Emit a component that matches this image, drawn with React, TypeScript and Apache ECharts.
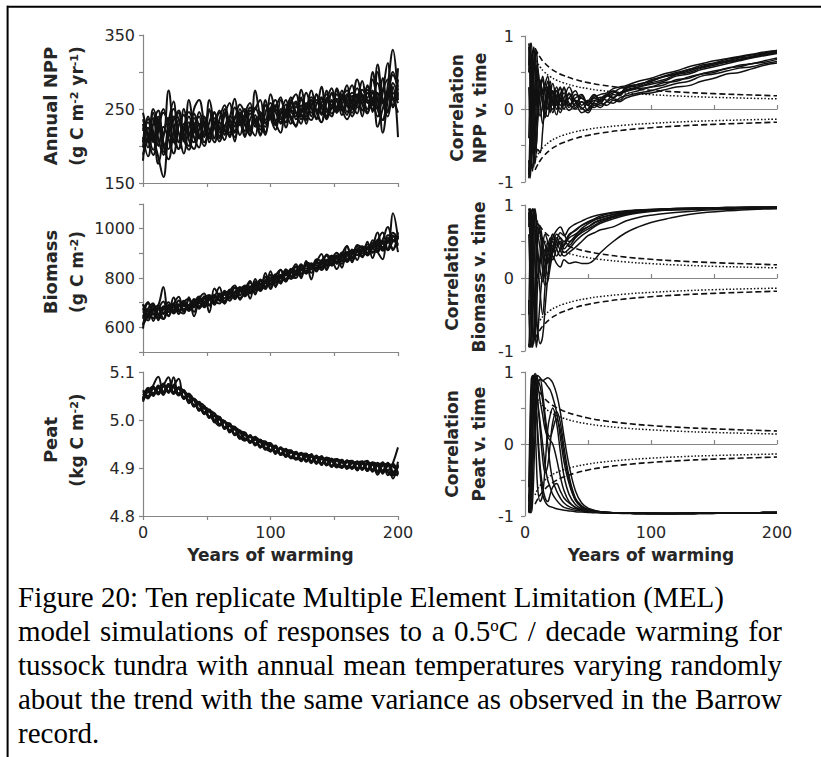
import React, { useEffect, useRef } from "react";
import * as echarts from "echarts";

// ---------- DATA ----------
const years = [0,4,8,12,16,20,24,28,32,36,40,44,48,52,56,60,64,68,72,76,80,84,88,92,96,100,104,108,112,116,120,124,128,132,136,140,144,148,152,156,160,164,168,172,176,180,184,188,192,196,200];

const nppReps = [
  [230,198,245,210,188,232,260,205,220,240, 212,198,230,215,245,225,208,236,220,250, 228,214,242,226,255,238,222,250,232,262, 245,230,258,240,270,252,238,262,248,275, 255,245,270,258,280,262,250,275,290,265, 245],
  [205,240,212,185,158,215,235,248,210,195, 226,240,205,218,232,210,245,226,212,238, 250,222,236,214,245,258,232,218,248,240, 226,255,236,262,248,232,258,270,245,262, 282,250,268,240,272,255,300,262,248,285, 270],
  [220,232,205,240,215,275,222,196,230,215, 250,262,232,212,228,245,222,215,240,232, 212,248,236,222,255,240,228,262,245,230, 258,240,250,275,246,232,265,250,278,256, 242,268,252,262,276,246,310,262,240,280, 212],
  [188,212,238,200,226,210,190,228,242,208, 196,222,238,205,230,248,215,235,206,242, 230,216,252,236,215,248,228,244,262,236, 228,250,240,262,236,258,270,244,252,268, 246,262,278,256,244,290,262,235,268,300, 275],
  [245,215,195,228,250,220,205,236,214,262, 225,210,240,222,205,236,255,230,218,245, 236,220,275,240,226,252,234,246,225,258, 270,242,235,262,248,256,240,272,260,248, 266,282,258,270,246,262,285,258,275,252, 290],
  [212,186,230,248,205,196,240,218,190,225, 238,215,200,232,246,218,228,212,252,236, 220,244,232,216,262,240,250,230,248,266, 236,245,272,252,238,264,250,240,276,258, 270,250,262,288,258,272,226,250,270,262, 305],
  [198,236,220,176,212,238,226,205,250,218, 205,230,212,262,228,206,225,240,232,215, 244,258,226,238,218,250,262,236,242,258, 252,276,246,235,256,266,246,260,245,270, 262,240,256,276,265,300,250,235,282,330, 262],
  [225,205,250,230,200,182,220,245,206,232, 218,246,226,210,238,222,250,218,236,256, 244,226,214,246,235,270,246,232,256,246, 240,262,255,245,270,242,262,278,252,266, 275,258,244,268,262,250,272,218,262,296, 280],
  [236,210,188,220,245,232,208,196,225,246, 230,212,220,248,226,214,242,258,226,244, 215,236,250,262,230,242,255,240,232,250, 260,236,248,266,258,280,236,252,264,242, 258,272,266,248,282,260,240,272,312,255, 270],
  [180,225,208,236,192,218,250,236,212,200, 244,228,216,250,210,232,220,238,264,228, 238,252,230,244,232,238,252,266,238,248, 244,266,230,256,262,244,275,255,270,250, 236,254,290,266,250,275,260,292,245,272, 258],
];

const biomassReps = [
  [675,643,672,640,674,702,666,694,663,691, 680,720,696,716,692,732,718,748,719,749, 770,742,765,747,790,812,785,807,790,832, 825,816,858,849,841,867,839,875,902,873, 900,881,918,909,896,942,934,910,952,983, 955],
  [610,648,692,650,634,677,696,654,693,681, 705,675,706,691,732,707,748,723,744,719, 740,767,740,777,765,787,815,782,825,807, 800,841,828,859,836,857,874,850,882,898, 875,916,893,919,891,927,984,915,962,913, 970],
  [673,703,626,674,705,645,694,724,665,713, 645,713,737,688,721,762,696,746,770,730, 763,716,796,758,820,755,808,833,787,821, 856,817,851,794,873,834,895,874,836,896, 930,864,907,886,947,881,951,984,919,970, 905],
  [635,698,657,635,684,682,656,684,708,671, 695,680,716,731,707,697,733,718,759,754, 730,757,775,752,780,802,770,802,830,797, 830,851,818,844,866,847,869,855,887,858, 890,906,873,924,916,907,909,950,942,1063, 960],
  [690,663,637,680,659,687,681,664,703,716, 685,715,681,711,727,712,698,743,729,764, 750,782,750,787,760,792,780,812,810,837, 810,831,853,834,876,867,849,890,867,893, 865,896,928,889,921,932,919,940,912,948, 965],
  [650,628,677,690,764,662,686,664,688,676, 710,700,686,726,697,727,738,708,739,749, 765,737,785,772,755,802,800,787,835,822, 825,806,863,854,831,872,854,880,857,903, 895,871,913,929,901,922,954,925,952,953, 930],
  [595,673,652,675,634,692,671,709,673,691, 705,685,726,691,722,712,743,738,724,754, 735,762,755,792,785,772,810,777,820,807, 845,836,818,859,851,832,864,890,882,868, 905,901,893,909,936,922,904,945,947,918, 985],
  [665,638,687,655,684,647,696,669,698,666, 700,725,691,721,707,732,733,753,714,744, 760,747,770,757,805,777,805,802,785,827, 815,846,838,854,826,869,890,860,892,888, 870,911,908,884,926,902,929,955,1007,953, 945],
  [610,676,698,629,678,663,721,670,656,722, 663,704,719,661,757,726,705,737,761,712, 754,788,733,794,766,827,763,833,796,830, 847,799,869,821,864,897,832,883,881,842, 930,882,934,922,902,953,906,876,973,970, 959],
  [695,653,667,690,654,682,661,689,688,676, 715,680,696,726,702,737,708,723,744,759, 725,757,780,762,785,762,795,812,815,797, 815,856,823,844,861,842,869,880,862,883, 895,881,913,899,921,922,944,920,917,973, 935],
];

const peatReps = [
  [5.055,5.047,5.072,5.090,5.059,5.075,5.058,5.068,5.048,5.055, 5.028,5.034,5.015,5.021,4.997,5.001,4.998,4.977,4.981,4.961, 4.971,4.956,4.965,4.943,4.949,4.950,4.933,4.940,4.923,4.932, 4.932,4.917,4.924,4.910,4.922,4.923,4.909,4.917,4.903,4.917, 4.902,4.913,4.895,4.910,4.915,4.894,4.906,4.888,4.909,4.892, 4.902],
  [5.042,5.067,5.054,5.066,5.074,5.057,5.089,5.055,5.062,5.038, 5.042,5.019,5.028,5.008,5.014,4.991,4.995,4.992,4.968,4.974, 4.959,4.969,4.950,4.957,4.938,4.947,4.935,4.943,4.925,4.935, 4.920,4.931,4.914,4.924,4.913,4.925,4.905,4.915,4.919,4.902, 4.915,4.899,4.910,4.914,4.894,4.908,4.890,4.908,4.885,4.910, 4.943],
  [5.060,5.058,5.052,5.068,5.052,5.073,5.068,5.051,5.059,5.050, 5.030,5.038,5.016,5.018,4.995,5.004,4.985,4.987,4.986,4.964, 4.973,4.953,4.959,4.959,4.941,4.935,4.944,4.930,4.939,4.923, 4.934,4.919,4.927,4.927,4.910,4.918,4.919,4.903,4.915,4.915, 4.898,4.910,4.913,4.898,4.908,4.911,4.894,4.912,4.891,4.884, 4.904],
  [5.038,5.061,5.070,5.057,5.072,5.089,5.058,5.067,5.044,5.054, 5.041,5.021,5.029,5.006,5.008,5.007,4.982,4.989,4.971,4.978, 4.961,4.966,4.947,4.955,4.955,4.936,4.942,4.927,4.937,4.937, 4.919,4.928,4.913,4.923,4.924,4.909,4.922,4.916,4.901,4.912, 4.913,4.898,4.909,4.897,4.913,4.896,4.909,4.895,4.908,4.904, 4.888],
  [5.054,5.045,5.067,5.054,5.076,5.059,5.073,5.055,5.058,5.035, 5.044,5.033,5.013,5.022,4.999,4.988,4.996,4.979,4.984,4.976, 4.958,4.964,4.963,4.944,4.951,4.952,4.930,4.940,4.935,4.920, 4.930,4.914,4.925,4.925,4.912,4.923,4.907,4.920,4.906,4.900, 4.914,4.915,4.899,4.909,4.894,4.906,4.886,4.906,4.909,4.878, 4.906],
  [5.044,5.063,5.056,5.072,5.057,5.070,5.054,5.066,5.061,5.040, 5.043,5.022,5.024,5.004,5.010,5.005,4.985,4.993,4.970,4.975, 4.974,4.955,4.961,4.942,4.953,4.938,4.947,4.928,4.928,4.935, 4.917,4.929,4.930,4.914,4.921,4.908,4.918,4.905,4.918,4.913, 4.900,4.911,4.896,4.912,4.898,4.912,4.907,4.891,4.904,4.906, 4.886],
  [5.058,5.050,5.069,5.053,5.070,5.061,5.072,5.086,5.046,5.049, 5.028,5.037,5.015,5.018,5.000,5.006,4.983,4.988,4.983,4.961, 4.969,4.954,4.964,4.955,4.939,4.948,4.933,4.942,4.924,4.933, 4.933,4.917,4.925,4.912,4.926,4.910,4.919,4.919,4.904,4.917, 4.903,4.913,4.898,4.913,4.897,4.910,4.892,4.907,4.895,4.909, 4.890],
  [5.046,5.061,5.050,5.070,5.058,5.075,5.057,5.065,5.044,5.051, 5.031,5.035,5.029,5.005,5.009,4.991,4.998,4.974,4.980,4.978, 4.960,4.967,4.949,4.956,4.955,4.934,4.943,4.929,4.940,4.922, 4.929,4.930,4.916,4.929,4.909,4.921,4.906,4.915,4.918,4.903, 4.916,4.900,4.912,4.900,4.911,4.892,4.907,4.910,4.892,4.889, 4.913],
  [5.062,5.048,5.065,5.058,5.073,5.057,5.070,5.054,5.062,5.041, 5.045,5.023,5.026,5.020,4.998,5.001,4.981,4.990,4.971,4.976, 4.973,4.952,4.960,4.946,4.952,4.950,4.929,4.941,4.936,4.921, 4.920,4.932,4.915,4.925,4.909,4.922,4.917,4.902,4.916,4.901, 4.912,4.914,4.900,4.910,4.895,4.909,4.905,4.892,4.911,4.892, 4.884],
  [5.040,5.064,5.055,5.069,5.056,5.071,5.055,5.068,5.047,5.053, 5.030,5.033,5.012,5.019,5.014,4.992,4.997,4.977,4.985,4.965, 4.957,4.966,4.951,4.959,4.940,4.947,4.946,4.928,4.936,4.936, 4.918,4.918,4.929,4.915,4.923,4.906,4.921,4.917,4.905,4.915, 4.901,4.902,4.914,4.896,4.909,4.897,4.911,4.894,4.906,4.886, 4.908],
];

const corrNppYears = [3,4,5,6,7,8,9,10,12,14,16,18,20,22,25,28,31,35,40,45,50,55,60,65,70,75,80,90,100,110,120,130,140,150,160,170,180,190,200];
const corrNppReps = [
  [-0.9,-0.6,0.2,0.7,0.85,0.6,0.3,0.1,0.35,0.25, 0.05,0.3,0.15,0.25,0.05,0.2,0.0,0.15,0.05,0.18, 0.05,0.12,0.08,0.18,0.15,0.22,0.25,0.3,0.36,0.4, 0.47,0.5,0.56,0.6,0.64,0.67,0.71,0.74,0.77],
  [0.9,0.7,0.2,-0.5,-0.8,-0.4,0.1,0.45,0.3,0.05, -0.12,0.15,0.32,0.1,-0.08,0.2,0.28,0.05,0.12,0.0, 0.1,0.2,0.12,0.2,0.24,0.2,0.3,0.34,0.38,0.45, 0.5,0.54,0.6,0.63,0.68,0.71,0.74,0.77,0.8],
  [-0.95,-0.3,0.5,0.8,0.4,-0.2,-0.5,-0.2,0.2,0.4, 0.25,0.38,0.15,-0.05,0.12,0.3,0.1,0.22,0.02,0.1, -0.02,0.08,0.05,0.1,0.14,0.12,0.2,0.25,0.3,0.33, 0.4,0.42,0.48,0.5,0.56,0.58,0.62,0.64,0.68],
  [0.6,0.85,0.9,0.5,0.0,-0.4,-0.6,-0.55,-0.6,-0.3, 0.1,0.15,0.3,0.08,0.25,0.05,0.15,0.3,0.1,0.02, -0.05,0.05,0.02,0.1,0.08,0.15,0.18,0.22,0.25,0.3, 0.35,0.38,0.45,0.48,0.52,0.56,0.58,0.62,0.65],
  [-0.7,-0.9,-0.5,0.1,0.6,0.8,0.5,0.2,-0.1,0.05, 0.3,0.1,-0.05,0.22,0.15,0.0,0.12,0.02,0.2,0.15, 0.1,0.16,0.2,0.22,0.28,0.3,0.32,0.38,0.42,0.48, 0.52,0.58,0.62,0.66,0.69,0.72,0.75,0.78,0.8],
  [0.3,-0.2,-0.7,-0.85,-0.5,0.0,0.4,0.55,0.3,0.45, 0.2,0.0,0.18,0.35,0.1,-0.05,0.08,0.15,0.25,0.05, 0.12,0.05,0.14,0.2,0.16,0.22,0.24,0.28,0.3,0.36, 0.38,0.44,0.48,0.52,0.55,0.6,0.62,0.66,0.7],
  [0.85,0.4,-0.3,-0.6,-0.2,0.3,0.6,0.4,0.1,-0.2, 0.0,0.25,0.38,0.15,0.25,0.1,0.3,0.05,0.15,0.2, 0.06,0.15,0.1,0.18,0.22,0.28,0.3,0.32,0.4,0.44, 0.48,0.54,0.57,0.62,0.66,0.7,0.72,0.76,0.78],
  [-0.4,0.3,0.75,0.6,0.2,-0.3,-0.2,0.1,0.4,0.2, 0.35,0.45,0.2,0.05,0.3,0.15,0.05,0.2,0.1,-0.05, 0.0,0.1,0.16,0.12,0.2,0.18,0.26,0.3,0.34,0.38, 0.45,0.48,0.54,0.58,0.62,0.66,0.7,0.73,0.76],
  [0.5,0.9,0.6,0.0,-0.6,-0.75,-0.5,-0.1,0.25,0.1, -0.05,-0.1,0.1,0.25,0.0,0.12,0.22,0.08,0.0,0.1, 0.05,0.02,0.08,0.05,0.12,0.1,0.15,0.2,0.22,0.26, 0.3,0.32,0.38,0.42,0.48,0.5,0.55,0.6,0.63],
  [-0.8,-0.95,-0.7,-0.2,0.4,0.7,0.8,0.6,0.3,0.15, 0.35,0.25,0.05,0.0,0.18,0.28,0.1,-0.02,0.08,0.15, 0.08,0.18,0.12,0.18,0.25,0.22,0.28,0.34,0.38,0.44, 0.48,0.52,0.58,0.62,0.65,0.68,0.72,0.75,0.79],
];

const corrYears = [3,4,5,6,7,8,9,10,12,14,16,18,20,22,25,28,31,35,40,45,50,55,60,70,80,90,100,115,130,145,160,180,200];

const corrBiomassReps = [
  [0.95,0.8,0.3,-0.5,-0.9,-0.6,0.2,0.7,0.6,0.3, 0.0,0.3,0.5,0.6,0.45,0.55,0.5,0.6,0.65,0.72, 0.76,0.8,0.83,0.87,0.9,0.92,0.93,0.94,0.95,0.955, 0.96,0.965,0.97],
  [-0.9,-0.95,-0.5,0.3,0.9,0.95,0.7,0.4,0.1,-0.05, 0.2,0.4,0.55,0.35,0.5,0.62,0.58,0.68,0.74,0.78, 0.82,0.85,0.87,0.9,0.92,0.93,0.94,0.95,0.955,0.96, 0.965,0.97,0.97],
  [0.7,0.95,0.9,0.5,0.0,-0.6,-0.95,-0.8,-0.3,0.1, 0.4,0.2,0.35,0.5,0.4,0.3,0.45,0.55,0.6,0.66, 0.7,0.75,0.79,0.84,0.88,0.9,0.92,0.93,0.94,0.95, 0.955,0.96,0.965],
  [0.9,0.5,-0.2,-0.7,-0.85,-0.5,0.0,0.5,0.7,0.5, 0.2,0.05,0.25,0.4,0.55,0.45,0.35,0.4,0.5,0.58, 0.64,0.7,0.75,0.81,0.86,0.89,0.91,0.93,0.94,0.95, 0.955,0.96,0.96],
  [-0.5,0.4,0.9,0.95,0.6,0.1,-0.4,-0.7,-0.9,-0.8, -0.4,0.0,0.3,0.45,0.3,0.4,0.5,0.45,0.55,0.62, 0.67,0.72,0.77,0.83,0.87,0.9,0.92,0.94,0.95,0.955, 0.96,0.965,0.97],
  [0.95,0.9,0.6,0.1,-0.3,-0.2,0.3,0.6,0.4,0.1, -0.1,-0.05,0.15,0.3,0.2,0.15,0.25,0.2,0.22,0.2, 0.2,0.25,0.35,0.5,0.62,0.7,0.76,0.82,0.87,0.9, 0.92,0.94,0.95],
  [-0.95,-0.6,0.2,0.8,0.95,0.7,0.3,0.0,0.2,0.45, 0.6,0.5,0.4,0.55,0.65,0.7,0.6,0.5,0.58,0.68, 0.74,0.79,0.82,0.87,0.9,0.92,0.93,0.945,0.95,0.96, 0.965,0.97,0.97],
  [0.6,0.0,-0.6,-0.95,-0.8,-0.3,0.3,0.75,0.65,0.4, 0.3,0.5,0.35,0.25,0.4,0.5,0.4,0.48,0.56,0.64, 0.7,0.76,0.8,0.85,0.89,0.91,0.93,0.94,0.95,0.955, 0.96,0.965,0.965],
  [0.8,0.95,0.7,0.2,-0.4,-0.8,-0.6,-0.1,0.3,0.55, 0.45,0.3,0.45,0.6,0.5,0.38,0.3,0.35,0.42,0.5, 0.58,0.62,0.66,0.7,0.78,0.83,0.86,0.89,0.91,0.93, 0.94,0.95,0.96],
  [-0.3,-0.9,-0.95,-0.4,0.4,0.9,0.8,0.3,-0.2,-0.5, -0.1,0.3,0.2,0.35,0.6,0.55,0.45,0.58,0.66,0.72, 0.77,0.81,0.85,0.89,0.91,0.93,0.94,0.95,0.96,0.96, 0.965,0.97,0.97],
];

const corrPeatReps = [
  [-0.95,-0.6,0.2,0.8,0.95,0.9,0.8,0.6,0.3,0.0, -0.3,-0.5,-0.6,-0.7,-0.78,-0.84,-0.88,-0.9,-0.92,-0.93, -0.94,-0.945,-0.95,-0.955,-0.96,-0.96,-0.96,-0.965,-0.965,-0.965, -0.96,-0.96,-0.955],
  [-0.9,-0.95,-0.7,0.0,0.6,0.9,0.95,0.9,0.8,0.6, 0.3,0.0,-0.3,-0.5,-0.65,-0.75,-0.82,-0.87,-0.9,-0.92, -0.93,-0.94,-0.945,-0.955,-0.96,-0.96,-0.965,-0.965,-0.965,-0.96, -0.96,-0.955,-0.95],
  [-0.6,0.3,0.9,0.95,0.7,0.3,-0.2,-0.6,-0.8,-0.7, -0.3,0.2,0.4,0.5,0.3,-0.1,-0.45,-0.7,-0.84,-0.9, -0.92,-0.935,-0.945,-0.955,-0.96,-0.965,-0.965,-0.965,-0.965,-0.96, -0.96,-0.955,-0.95],
  [-0.95,-0.95,-0.9,-0.5,0.1,0.5,0.75,0.85,0.9,0.88, 0.85,0.8,0.75,0.65,0.45,0.1,-0.25,-0.55,-0.78,-0.87, -0.91,-0.93,-0.94,-0.955,-0.96,-0.96,-0.965,-0.965,-0.965,-0.965, -0.96,-0.96,-0.955],
  [-0.8,0.0,0.7,0.9,0.85,0.7,0.5,0.2,-0.3,-0.6, -0.75,-0.8,-0.7,-0.6,-0.55,-0.65,-0.75,-0.82,-0.88,-0.91, -0.93,-0.94,-0.95,-0.955,-0.96,-0.965,-0.965,-0.965,-0.96,-0.96, -0.96,-0.955,-0.95],
  [-0.95,-0.85,-0.4,0.3,0.7,0.85,0.9,0.95,0.92,0.88, 0.9,0.92,0.9,0.85,0.7,0.45,0.1,-0.3,-0.65,-0.82, -0.89,-0.92,-0.94,-0.955,-0.96,-0.965,-0.965,-0.965,-0.965,-0.96, -0.96,-0.955,-0.95],
  [-0.7,-0.95,-0.6,0.2,0.8,0.95,0.85,0.6,0.2,-0.2, -0.4,-0.3,0.0,0.3,0.45,0.3,-0.05,-0.45,-0.75,-0.86, -0.91,-0.93,-0.945,-0.955,-0.96,-0.96,-0.965,-0.965,-0.965,-0.96, -0.96,-0.955,-0.95],
  [-0.9,-0.4,0.5,0.9,0.95,0.8,0.5,0.1,-0.4,-0.7, -0.8,-0.85,-0.87,-0.88,-0.9,-0.91,-0.92,-0.93,-0.94,-0.945, -0.95,-0.955,-0.955,-0.96,-0.965,-0.965,-0.965,-0.965,-0.96,-0.96, -0.955,-0.955,-0.95],
  [-0.85,-0.95,-0.95,-0.8,-0.4,0.2,0.6,0.8,0.9,0.7, 0.4,0.15,0.1,0.2,0.35,0.2,-0.15,-0.5,-0.78,-0.88, -0.92,-0.94,-0.95,-0.955,-0.96,-0.965,-0.965,-0.965,-0.96,-0.96, -0.96,-0.955,-0.95],
  [-0.95,-0.7,0.0,0.6,0.9,0.98,0.95,0.85,0.6,0.4, 0.2,0.1,0.05,0.0,-0.2,-0.45,-0.65,-0.8,-0.88,-0.91, -0.93,-0.94,-0.95,-0.955,-0.96,-0.965,-0.965,-0.965,-0.965,-0.96, -0.96,-0.955,-0.95],
];

// significance thresholds of r (dashed: p = 0.01, dotted: p = 0.05)
const critYears = [8,10,12,15,20,25,30,40,50,60,80,100,120,150,200];
const crit01Upper = [0.834,0.765,0.708,0.641,0.561,0.505,0.463,0.403,0.361,0.330,0.286,0.256,0.234,0.210,0.181];
const crit01Lower = [-0.834,-0.765,-0.708,-0.641,-0.561,-0.505,-0.463,-0.403,-0.361,-0.330,-0.286,-0.256,-0.234,-0.210,-0.181];
const crit05Upper = [0.707,0.632,0.576,0.514,0.444,0.396,0.361,0.312,0.279,0.254,0.220,0.197,0.179,0.160,0.139];
const crit05Lower = [-0.707,-0.632,-0.576,-0.514,-0.444,-0.396,-0.361,-0.312,-0.279,-0.254,-0.220,-0.197,-0.179,-0.160,-0.139];

const nppTickLabels = [150, 250, 350];
const biomassTickLabels = [600, 800, 1000];
const peatTickLabels = ["4.8", "4.9", "5.0", "5.1"];
const corrTickLabels = [-1, 0, 1];
const yearTickLabels = [0, 100, 200];

const captionLines = [
  "Figure 20: Ten replicate Multiple Element Limitation (MEL)",
  "model simulations of responses to a 0.5°C / decade warming for",
  "tussock tundra with annual mean temperatures varying randomly",
  "about the trend with the same variance as observed in the Barrow",
  "record.",
];
const captionJustified = [false, true, true, true, false];

// ---------- STYLE ----------
const FONT = "DejaVu Sans";
const SERIF = "Liberation Serif";
const AXIS_COLOR = "#868686";
const TEXT_COLOR = "#262626";
const LINE_COLOR = "#111111";

const grids = [
  { left: 143, top: 35, width: 255, height: 148 },
  { left: 143, top: 204, width: 255, height: 148 },
  { left: 143, top: 372, width: 255, height: 144 },
  { left: 525, top: 36, width: 252, height: 146 },
  { left: 525, top: 205, width: 252, height: 146 },
  { left: 525, top: 372, width: 252, height: 144 },
];

const labelStyle = { fontFamily: FONT, fontSize: 16, color: TEXT_COLOR };
const axisNameStyle = { fontFamily: FONT, fontSize: 17, fontWeight: "bold", color: TEXT_COLOR };

function leftX(gridIndex: number, showLabels: boolean) {
  return {
    gridIndex, type: "value", min: 0, max: 200, interval: 50,
    axisLine: { show: true, onZero: false, lineStyle: { color: AXIS_COLOR, width: 1.2 } },
    axisTick: { show: true, length: 4, lineStyle: { color: AXIS_COLOR, width: 1.2 } },
    axisLabel: {
      show: showLabels, margin: 8, ...labelStyle,
      formatter: (v: number) => (yearTickLabels.includes(v) ? String(v) : ""),
    },
    splitLine: { show: false },
    name: showLabels ? "Years of warming" : "",
    nameLocation: "middle", nameGap: 30, nameTextStyle: axisNameStyle,
  };
}

function rightX(gridIndex: number) {
  return {
    gridIndex, type: "value", min: 0, max: 200, interval: 50,
    axisLine: { show: true, onZero: true, lineStyle: { color: AXIS_COLOR, width: 1.2 } },
    axisTick: { show: true, inside: true, length: 4, lineStyle: { color: AXIS_COLOR, width: 1.2 } },
    axisLabel: { show: false },
    splitLine: { show: false },
  };
}

function yAxis(gridIndex: number, min: number, max: number, interval: number, fmt: (v: number) => string, margin: number) {
  return {
    gridIndex, type: "value", min, max, interval,
    axisLine: { show: true, onZero: false, lineStyle: { color: AXIS_COLOR, width: 1.2 } },
    axisTick: { show: true, length: 4, lineStyle: { color: AXIS_COLOR, width: 1.2 } },
    axisLabel: { margin, ...labelStyle, formatter: fmt },
    splitLine: { show: false },
  };
}

function repSeries(xs: number[], reps: number[][], axisIndex: number, width: number, smooth: number) {
  return reps.map((rep) => ({
    type: "line", xAxisIndex: axisIndex, yAxisIndex: axisIndex,
    data: xs.map((x, i) => [x, rep[i]]),
    symbol: "none", smooth, silent: true,
    lineStyle: { color: LINE_COLOR, width },
    z: 2,
  }));
}

function critSeries(axisIndex: number) {
  const mk = (vals: number[], type: any, width: number) => ({
    type: "line", xAxisIndex: axisIndex, yAxisIndex: axisIndex,
    data: critYears.map((x, i) => [x, vals[i]]),
    symbol: "none", smooth: true, silent: true,
    lineStyle: { color: LINE_COLOR, width, type },
    z: 3,
  });
  return [
    mk(crit01Upper, [6, 3], 1.6),
    mk(crit01Lower, [6, 3], 1.6),
    mk(crit05Upper, [1.5, 2], 1.5),
    mk(crit05Lower, [1.5, 2], 1.5),
  ];
}

function yName(x: number, y: number, text: string, fontSize: number) {
  return {
    type: "text", x, y, rotation: Math.PI / 2,
    style: {
      text, align: "center", verticalAlign: "middle",
      fontFamily: FONT, fontSize, fontWeight: "bold", fill: TEXT_COLOR,
      rich: {
        n: { fontFamily: FONT, fontSize, fontWeight: "bold", fill: TEXT_COLOR },
        s: { fontFamily: FONT, fontSize: 11, fontWeight: "bold", fill: TEXT_COLOR, verticalAlign: "top" },
      },
    },
  };
}

// caption lines (lines 2-4 justified); the degree sign is drawn as a raised small "o"
function captionElements() {
  const size = 29;
  const supSize = 17;
  const left = 18;
  const right = 782;
  const ys = [597, 631, 665, 699, 733];
  const ctx = document.createElement("canvas").getContext("2d")!;
  const w = (t: string, s: number) => {
    ctx.font = `${s}px "${SERIF}"`;
    return ctx.measureText(t).width;
  };
  const rich = {
    t: { fontFamily: SERIF, fontSize: size, fill: "#000" },
    s: { fontFamily: SERIF, fontSize: supSize, fill: "#000", verticalAlign: "top" },
  };
  const word = (wd: string) => {
    if (wd.includes("°")) {
      const [a, b] = wd.split("°");
      return { text: `{t|${a}}{s|o}{t|${b}}`, width: w(a, size) + w("o", supSize) + w(b, size) };
    }
    return { text: wd, width: w(wd, size) };
  };
  const els: any[] = [];
  captionLines.forEach((line, li) => {
    const words = line.split(" ").map(word);
    const space = w(" ", size);
    let gap = space;
    if (captionJustified[li] && words.length > 1) {
      const total = words.reduce((s, x) => s + x.width, 0);
      gap = Math.max(space * 0.8, (right - left - total) / (words.length - 1));
    }
    let x = left;
    words.forEach((wd) => {
      els.push({
        type: "text", x, y: ys[li],
        style: { text: wd.text, align: "left", verticalAlign: "middle", fontFamily: SERIF, fontSize: size, fill: "#000", rich },
      });
      x += wd.width + gap;
    });
  });
  return els;
}

function buildOption() {
  const graphic: any[] = [
    { type: "line", shape: { x1: 7, y1: 6.7, x2: 821, y2: 6.7 }, style: { stroke: "#000", lineWidth: 2 } },
    { type: "line", shape: { x1: 7.6, y1: 5.7, x2: 7.6, y2: 757 }, style: { stroke: "#000", lineWidth: 2 } },
    yName(50, 106, "Annual NPP", 18),
    yName(77, 106, "{n|(g C m}{s|-2}{n| yr}{s|-1}{n|)}", 17),
    yName(50, 272, "Biomass", 18),
    yName(77, 272, "{n|(g C m}{s|-2}{n|)}", 17),
    yName(50, 440, "Peat", 18),
    yName(77, 440, "{n|(kg C m}{s|-2}{n|)}", 17),
    yName(457, 108, "Correlation", 17),
    yName(480, 108, "NPP v. time", 17),
    yName(452, 277, "Correlation", 17),
    yName(479, 277, "Biomass v. time", 17),
    yName(452, 444, "Correlation", 17),
    yName(479, 444, "Peat v. time", 17),
    ...captionElements(),
  ];

  return {
    animation: false,
    backgroundColor: "#ffffff",
    grid: grids,
    xAxis: [
      leftX(0, false), leftX(1, false), leftX(2, true),
      rightX(3), rightX(4), rightX(5),
      {
        gridIndex: 5, type: "value", min: 0, max: 200, interval: 50, position: "bottom",
        axisLine: { show: false, onZero: false }, axisTick: { show: false },
        axisLabel: { margin: 8, ...labelStyle, formatter: (v: number) => (yearTickLabels.includes(v) ? String(v) : "") },
        splitLine: { show: false },
        name: "Years of warming", nameLocation: "middle", nameGap: 30, nameTextStyle: axisNameStyle,
      },
    ],
    yAxis: [
      yAxis(0, 150, 350, 50, (v) => (nppTickLabels.includes(v) ? String(v) : ""), 8),
      yAxis(1, 500, 1100, 100, (v) => (biomassTickLabels.includes(v) ? String(v) : ""), 8),
      yAxis(2, 4.8, 5.1, 0.1, (v) => { const s = v.toFixed(1); return peatTickLabels.includes(s) ? s : ""; }, 8),
      yAxis(3, -1, 1, 0.5, (v) => (corrTickLabels.includes(v) ? String(v) : ""), 11),
      yAxis(4, -1, 1, 0.5, (v) => (corrTickLabels.includes(v) ? String(v) : ""), 11),
      yAxis(5, -1, 1, 0.5, (v) => (corrTickLabels.includes(v) ? String(v) : ""), 11),
    ],
    series: [
      ...repSeries(years, nppReps, 0, 2, 0.4),
      ...repSeries(years, biomassReps, 1, 2, 0.4),
      ...repSeries(years, peatReps, 2, 2, 0.4),
      ...repSeries(corrNppYears, corrNppReps, 3, 1.5, 0.4),
      ...repSeries(corrYears, corrBiomassReps, 4, 1.5, 0.4),
      ...repSeries(corrYears, corrPeatReps, 5, 1.5, 0.4),
      ...critSeries(3), ...critSeries(4), ...critSeries(5),
    ],
    graphic,
  };
}

export default function App() {
  const ref = useRef<HTMLDivElement>(null);
  useEffect(() => {
    if (!ref.current) return;
    const chart = echarts.init(ref.current, null, { renderer: "svg" });
    chart.setOption(buildOption() as any);
    return () => chart.dispose();
  }, []);
  return (
    <div
      ref={ref}
      style={{ position: "absolute", left: 0, top: 0, width: 821, height: 757, background: "#fff" }}
    />
  );
}
